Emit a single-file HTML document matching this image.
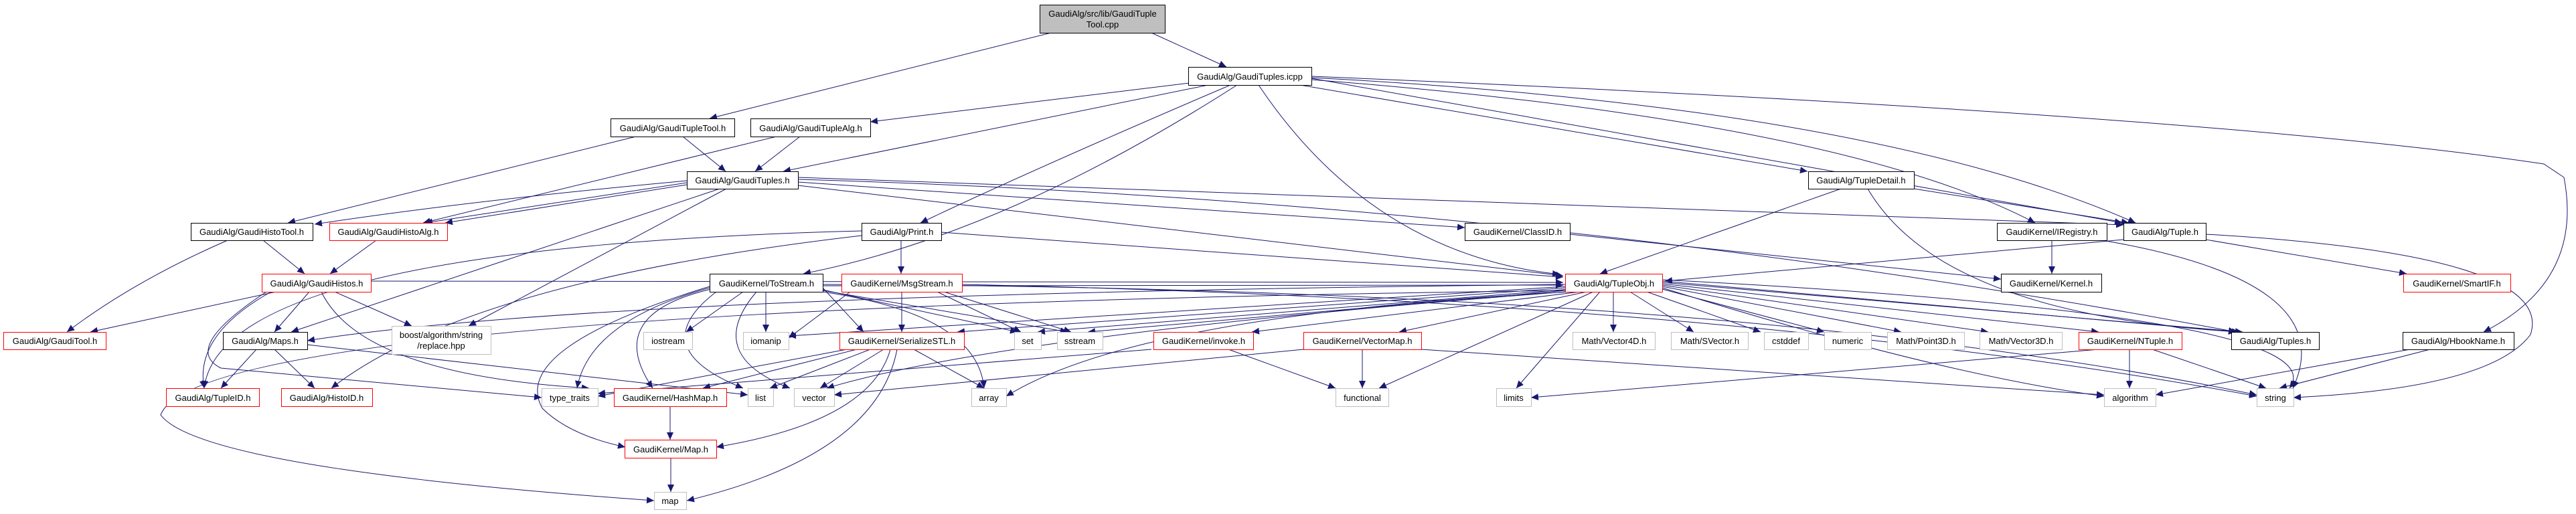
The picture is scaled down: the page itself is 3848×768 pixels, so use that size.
<!DOCTYPE html>
<html><head><meta charset="utf-8"><style>
html,body{margin:0;padding:0;background:#fff;}
svg{display:block;}
text{font-family:"Liberation Sans",sans-serif;font-size:13px;fill:#000;}
.b{fill:#fff;stroke:#000;stroke-width:1;}
.r{fill:#fff;stroke:#ff0000;stroke-width:1;}
.g{fill:#fff;stroke:#bfbfbf;stroke-width:1;}
.e{fill:none;stroke:#191970;stroke-width:1;}
</style></head><body>
<svg width="3848" height="768" viewBox="0 0 3848 768" xmlns="http://www.w3.org/2000/svg">
<defs><marker id="a" markerUnits="userSpaceOnUse" markerWidth="12" markerHeight="10" refX="11" refY="5" orient="auto"><path d="M0,0 L11,5 L0,10 z" fill="#191970"/></marker></defs>
<g class="e" marker-end="url(#a)">
<path d="M1570 49 L1060 177"/>
<path d="M1720 49 L1832 100"/>
<path d="M1777 124 L1300 182"/>
<path d="M1805 127 L1170 256"/>
<path d="M1838 127 Q1550 250 1375 333"/>
<path d="M1848 127 Q1500 350 1200 409"/>
<path d="M1880 127 Q2050 380 2330 410"/>
<path d="M1942 127 L2700 256"/>
<path d="M1959 119 Q2750 180 3040 333"/>
<path d="M1959 116 Q2800 160 3190 333"/>
<path d="M1959 114 Q3300 170 3800 245 L3830 265 Q3860 420 3710 496"/>
<path d="M1959 117 L3170 333"/>
<path d="M950 204 L430 333"/>
<path d="M1020 204 L1084 256"/>
<path d="M1160 204 L632 333"/>
<path d="M1195 204 L1128 256"/>
<path d="M1026 270 Q700 300 470 335"/>
<path d="M1026 276 L665 333"/>
<path d="M1026 273 L635 333"/>
<path d="M1075 282 L435 496"/>
<path d="M1085 282 L700 487"/>
<path d="M1192 272 L2188 340"/>
<path d="M1192 277 L2335 412"/>
<path d="M1192 265 L3172 336"/>
<path d="M1192 268 Q2300 300 3340 496"/>
<path d="M340 359 Q200 420 100 496"/>
<path d="M393 359 L455 409"/>
<path d="M562 359 L493 409"/>
<path d="M412 436 L135 496"/>
<path d="M462 436 L410 496"/>
<path d="M500 436 L615 487"/>
<path d="M405 436 Q290 500 305 580"/>
<path d="M480 436 Q540 560 880 580"/>
<path d="M554 420 L2335 422"/>
<path d="M398 436 Q270 520 330 550 L809 594"/>
<path d="M1346 359 L1346 409"/>
<path d="M1287 345 Q330 370 305 580"/>
<path d="M1287 352 Q700 420 495 580"/>
<path d="M1406 347 L2335 414"/>
<path d="M1110 436 L1025 496"/>
<path d="M1144 436 L1144 496"/>
<path d="M1060 430 Q880 480 862 580"/>
<path d="M1062 432 Q900 470 975 580"/>
<path d="M1060 428 Q760 520 810 610 Q850 650 934 668"/>
<path d="M1070 436 Q960 520 1110 580"/>
<path d="M1130 436 Q1050 530 1180 580"/>
<path d="M1229 430 L1290 496"/>
<path d="M1229 433 L1520 496"/>
<path d="M1229 434 L1595 496"/>
<path d="M1229 436 Q1460 470 1470 580"/>
<path d="M1229 425 Q2600 430 3371 590"/>
<path d="M1229 427 L2335 426"/>
<path d="M1347 436 L1347 496"/>
<path d="M1400 436 L1525 496"/>
<path d="M1410 436 L1600 496"/>
<path d="M1437 425 Q2600 450 3371 592"/>
<path d="M1270 436 L1178 505"/>
<path d="M1265 522 L893 592"/>
<path d="M1280 522 L1050 580"/>
<path d="M1300 522 L1150 580"/>
<path d="M1320 522 L1225 580"/>
<path d="M1365 522 L1470 580"/>
<path d="M1330 522 Q1300 630 1070 668"/>
<path d="M1340 522 Q1310 680 1026 748"/>
<path d="M1001 607 L1001 657"/>
<path d="M1002 684 L1002 735"/>
<path d="M383 522 L330 580"/>
<path d="M410 522 L470 580"/>
<path d="M459 515 L1117 590"/>
<path d="M2339 425 Q900 440 459 509"/>
<path d="M2345 432 L1550 496"/>
<path d="M2350 433 L1625 496"/>
<path d="M2339 428 L1178 502"/>
<path d="M2339 430 L1430 496"/>
<path d="M2360 436 L1870 496"/>
<path d="M2370 436 L2090 496"/>
<path d="M2410 436 L2410 496"/>
<path d="M2435 436 L2530 496"/>
<path d="M2460 436 L2630 496"/>
<path d="M2483 432 L2725 496"/>
<path d="M2483 428 L2840 496"/>
<path d="M2483 426 L2970 496"/>
<path d="M2483 424 L3135 496"/>
<path d="M2483 420 L3340 496"/>
<path d="M2483 422 L3350 496"/>
<path d="M2483 418 Q3500 470 3420 580"/>
<path d="M2483 430 Q2900 560 3143 592"/>
<path d="M2390 436 L2265 580"/>
<path d="M2380 436 L2060 580"/>
<path d="M2345 436 Q1700 470 1503 592"/>
<path d="M2339 436 Q1500 500 1235 580"/>
<path d="M2339 434 Q300 460 240 620 Q300 700 977 748"/>
<path d="M1835 522 L1995 580"/>
<path d="M1720 522 L893 588"/>
<path d="M2035 522 L2035 580"/>
<path d="M1947 522 L1246 590"/>
<path d="M2123 522 L3143 590"/>
<path d="M3181 522 L3181 580"/>
<path d="M3215 522 L3385 580"/>
<path d="M3135 522 L2287 594"/>
<path d="M2750 282 L2390 409"/>
<path d="M2859 282 L3180 333"/>
<path d="M2790 282 Q2900 470 3345 496"/>
<path d="M3065 359 L3065 409"/>
<path d="M3140 359 Q3500 420 3425 580"/>
<path d="M3172 358 L2487 420"/>
<path d="M3295 358 L3595 409"/>
<path d="M3295 350 Q3820 380 3780 500 Q3720 580 3426 594"/>
<path d="M2345 350 L2989 417"/>
<path d="M3630 522 L3405 580"/>
<path d="M3600 522 L3220 590"/>
</g>
<rect x="1553.5" y="7.5" width="187" height="42" fill="#bfbfbf" stroke="#000"/>
<text x="1647" y="25" text-anchor="middle">GaudiAlg/src/lib/GaudiTuple</text>
<text x="1647" y="41" text-anchor="middle">Tool.cpp</text>
<g>
<rect class="b" x="1775.5" y="100.5" width="184" height="27"/><text x="1867" y="119" text-anchor="middle">GaudiAlg/GaudiTuples.icpp</text>
<rect class="b" x="912.5" y="177.5" width="185" height="27"/><text x="1005" y="196" text-anchor="middle">GaudiAlg/GaudiTupleTool.h</text>
<rect class="b" x="1121.5" y="177.5" width="179" height="27"/><text x="1211" y="196" text-anchor="middle">GaudiAlg/GaudiTupleAlg.h</text>
<rect class="b" x="1026.5" y="256.5" width="166" height="26"/><text x="1109" y="274" text-anchor="middle">GaudiAlg/GaudiTuples.h</text>
<rect class="b" x="2701.5" y="256.5" width="158" height="26"/><text x="2780" y="274" text-anchor="middle">GaudiAlg/TupleDetail.h</text>
<rect class="b" x="285.5" y="333.5" width="182" height="26"/><text x="376" y="351" text-anchor="middle">GaudiAlg/GaudiHistoTool.h</text>
<rect class="r" x="492.5" y="333.5" width="176" height="26"/><text x="580" y="351" text-anchor="middle">GaudiAlg/GaudiHistoAlg.h</text>
<rect class="b" x="1287.5" y="333.5" width="119" height="26"/><text x="1347" y="351" text-anchor="middle">GaudiAlg/Print.h</text>
<rect class="b" x="2188.5" y="333.5" width="157" height="26"/><text x="2267" y="351" text-anchor="middle">GaudiKernel/ClassID.h</text>
<rect class="b" x="2983.5" y="333.5" width="164" height="26"/><text x="3065" y="351" text-anchor="middle">GaudiKernel/IRegistry.h</text>
<rect class="b" x="3172.5" y="333.5" width="123" height="26"/><text x="3234" y="351" text-anchor="middle">GaudiAlg/Tuple.h</text>
<rect class="r" x="391.5" y="409.5" width="163" height="27"/><text x="473" y="428" text-anchor="middle">GaudiAlg/GaudiHistos.h</text>
<rect class="b" x="1060.5" y="409.5" width="169" height="27"/><text x="1145" y="428" text-anchor="middle">GaudiKernel/ToStream.h</text>
<rect class="r" x="1257.5" y="409.5" width="180" height="27"/><text x="1347" y="428" text-anchor="middle">GaudiKernel/MsgStream.h</text>
<rect class="r" x="2338.5" y="409.5" width="145" height="27"/><text x="2411" y="428" text-anchor="middle">GaudiAlg/TupleObj.h</text>
<rect class="b" x="2989.5" y="409.5" width="150" height="27"/><text x="3064" y="428" text-anchor="middle">GaudiKernel/Kernel.h</text>
<rect class="r" x="3590.5" y="409.5" width="160" height="27"/><text x="3670" y="428" text-anchor="middle">GaudiKernel/SmartIF.h</text>
<rect class="r" x="5.5" y="496.5" width="153" height="26"/><text x="82" y="514" text-anchor="middle">GaudiAlg/GaudiTool.h</text>
<rect class="b" x="333.5" y="496.5" width="126" height="26"/><text x="396" y="514" text-anchor="middle">GaudiAlg/Maps.h</text>
<rect class="g" x="585.5" y="487.5" width="148" height="42"/><text x="659" y="505" text-anchor="middle">boost/algorithm/string</text><text x="659" y="521" text-anchor="middle">/replace.hpp</text>
<rect class="g" x="961.5" y="496.5" width="73" height="26"/><text x="998" y="514" text-anchor="middle">iostream</text>
<rect class="g" x="1110.5" y="496.5" width="68" height="26"/><text x="1144" y="514" text-anchor="middle">iomanip</text>
<rect class="r" x="1254.5" y="496.5" width="186" height="26"/><text x="1347" y="514" text-anchor="middle">GaudiKernel/SerializeSTL.h</text>
<rect class="g" x="1515.5" y="496.5" width="40" height="26"/><text x="1535" y="514" text-anchor="middle">set</text>
<rect class="g" x="1579.5" y="496.5" width="68" height="26"/><text x="1613" y="514" text-anchor="middle">sstream</text>
<rect class="r" x="1723.5" y="496.5" width="149" height="26"/><text x="1798" y="514" text-anchor="middle">GaudiKernel/invoke.h</text>
<rect class="r" x="1947.5" y="496.5" width="176" height="26"/><text x="2035" y="514" text-anchor="middle">GaudiKernel/VectorMap.h</text>
<rect class="g" x="2349.5" y="496.5" width="123" height="26"/><text x="2411" y="514" text-anchor="middle">Math/Vector4D.h</text>
<rect class="g" x="2496.5" y="496.5" width="115" height="26"/><text x="2554" y="514" text-anchor="middle">Math/SVector.h</text>
<rect class="g" x="2635.5" y="496.5" width="66" height="26"/><text x="2668" y="514" text-anchor="middle">cstddef</text>
<rect class="g" x="2725.5" y="496.5" width="70" height="26"/><text x="2760" y="514" text-anchor="middle">numeric</text>
<rect class="g" x="2819.5" y="496.5" width="115" height="26"/><text x="2877" y="514" text-anchor="middle">Math/Point3D.h</text>
<rect class="g" x="2957.5" y="496.5" width="123" height="26"/><text x="3019" y="514" text-anchor="middle">Math/Vector3D.h</text>
<rect class="r" x="3105.5" y="496.5" width="154" height="26"/><text x="3182" y="514" text-anchor="middle">GaudiKernel/NTuple.h</text>
<rect class="b" x="3333.5" y="496.5" width="131" height="26"/><text x="3399" y="514" text-anchor="middle">GaudiAlg/Tuples.h</text>
<rect class="b" x="3589.5" y="496.5" width="166" height="26"/><text x="3672" y="514" text-anchor="middle">GaudiAlg/HbookName.h</text>
<rect class="r" x="248.5" y="580.5" width="139" height="27"/><text x="318" y="599" text-anchor="middle">GaudiAlg/TupleID.h</text>
<rect class="r" x="420.5" y="580.5" width="136" height="27"/><text x="488" y="599" text-anchor="middle">GaudiAlg/HistoID.h</text>
<rect class="g" x="809.5" y="580.5" width="84" height="27"/><text x="851" y="599" text-anchor="middle">type_traits</text>
<rect class="r" x="917.5" y="580.5" width="168" height="27"/><text x="1001" y="599" text-anchor="middle">GaudiKernel/HashMap.h</text>
<rect class="g" x="1117.5" y="580.5" width="38" height="27"/><text x="1136" y="599" text-anchor="middle">list</text>
<rect class="g" x="1186.5" y="580.5" width="60" height="27"/><text x="1216" y="599" text-anchor="middle">vector</text>
<rect class="g" x="1451.5" y="580.5" width="52" height="27"/><text x="1477" y="599" text-anchor="middle">array</text>
<rect class="g" x="1995.5" y="580.5" width="79" height="27"/><text x="2035" y="599" text-anchor="middle">functional</text>
<rect class="g" x="2235.5" y="580.5" width="52" height="27"/><text x="2261" y="599" text-anchor="middle">limits</text>
<rect class="g" x="3143.5" y="580.5" width="77" height="27"/><text x="3182" y="599" text-anchor="middle">algorithm</text>
<rect class="g" x="3371.5" y="580.5" width="55" height="27"/><text x="3399" y="599" text-anchor="middle">string</text>
<rect class="r" x="933.5" y="657.5" width="137" height="27"/><text x="1002" y="676" text-anchor="middle">GaudiKernel/Map.h</text>
<rect class="g" x="977.5" y="735.5" width="48" height="26"/><text x="1001" y="753" text-anchor="middle">map</text>
</g>
</svg>
</body></html>
